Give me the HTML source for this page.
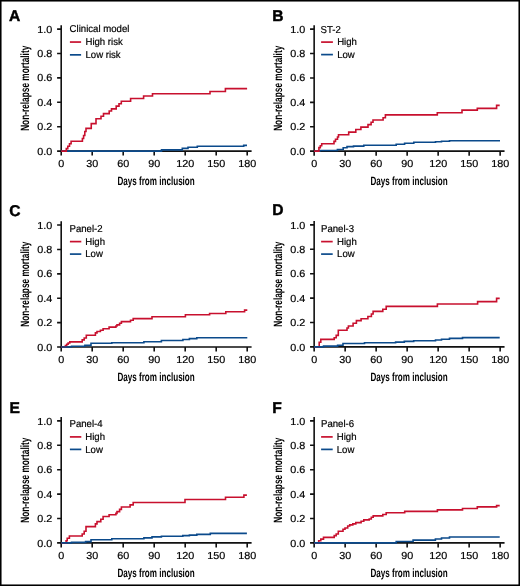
<!DOCTYPE html>
<html><head><meta charset="utf-8"><style>
html,body{margin:0;padding:0;background:#fff;}
body{width:520px;height:586px;overflow:hidden;}
svg{display:block;will-change:transform;}
text{font-family:"Liberation Sans",sans-serif;fill:#000;text-rendering:geometricPrecision;}
.lt{font-weight:bold;font-size:15.6px;fill:#000;stroke:#000;stroke-width:0.45px;}
.tk{font-size:10.2px;stroke:#000;stroke-width:0.2px;}
.lg{font-size:10.0px;stroke:#000;stroke-width:0.2px;}
.at{font-size:12px;fill:#000;font-weight:bold;}
.ax{fill:none;stroke:#111;stroke-width:1.6;}
.ln{fill:none;stroke-width:1.7;}
.cv{fill:none;stroke-width:1.6;stroke-linejoin:miter;stroke-linecap:butt;}
</style></head><body>
<svg width="520" height="586" viewBox="0 0 520 586">
<rect x="0" y="0" width="520" height="586" fill="#fff"/>
<g><text x="9" y="20.6" class="lt">A</text>
<path d="M61.2 25.2V151.1H251.6" class="ax"/>
<path d="M57.1 151.1H61.2M57.1 126.7H61.2M57.1 102.3H61.2M57.1 77.9H61.2M57.1 53.5H61.2M57.1 29.1H61.2M61.2 151.1V155.6M92.2 151.1V155.6M123.2 151.1V155.6M154.2 151.1V155.6M185.2 151.1V155.6M216.2 151.1V155.6M247.2 151.1V155.6" class="ax"/>
<text transform="translate(52.3 154.65) scale(1.06 1)" class="tk" text-anchor="end">0.0</text>
<text transform="translate(52.3 130.25) scale(1.06 1)" class="tk" text-anchor="end">0.2</text>
<text transform="translate(52.3 105.85) scale(1.06 1)" class="tk" text-anchor="end">0.4</text>
<text transform="translate(52.3 81.45) scale(1.06 1)" class="tk" text-anchor="end">0.6</text>
<text transform="translate(52.3 57.05) scale(1.06 1)" class="tk" text-anchor="end">0.8</text>
<text transform="translate(52.3 32.65) scale(1.06 1)" class="tk" text-anchor="end">1.0</text>
<text transform="translate(61.3 167.35) scale(1.06 1)" class="tk" text-anchor="middle">0</text>
<text transform="translate(92.3 167.35) scale(1.06 1)" class="tk" text-anchor="middle">30</text>
<text transform="translate(123.3 167.35) scale(1.06 1)" class="tk" text-anchor="middle">60</text>
<text transform="translate(154.3 167.35) scale(1.06 1)" class="tk" text-anchor="middle">90</text>
<text transform="translate(185.3 167.35) scale(1.06 1)" class="tk" text-anchor="middle">120</text>
<text transform="translate(216.3 167.35) scale(1.06 1)" class="tk" text-anchor="middle">150</text>
<text transform="translate(247.3 167.35) scale(1.06 1)" class="tk" text-anchor="middle">180</text>
<text transform="translate(156.1 184.7) scale(0.674 1)" class="at" text-anchor="middle">Days from inclusion</text>
<text transform="translate(29.1 88.3) rotate(-90) scale(0.69 1)" class="at" text-anchor="middle">Non-relapse mortality</text>
<text transform="translate(69.6 32.3) scale(0.96 1)" class="lg">Clinical model</text>
<path d="M69.9 42.05H81.1" stroke="#C8102E" class="ln"/>
<path d="M69.9 54.85H81.1" stroke="#0B4A8B" class="ln"/>
<text transform="translate(85.45 44.8) scale(0.96 1)" class="lg">High risk</text>
<text transform="translate(85.45 57.5) scale(0.96 1)" class="lg">Low risk</text>
<path d="M61.2 151.1H161.5V149.9H182.3V148.4H188V147.3H197.3V146.3H243.7V145.4H247" stroke="#0B4A8B" class="cv"/>
<path d="M61.2 151.1H66.3V148.6H67.8V146.3H69.5V143.8H71.1V141.3H82.4V138.5H83.6V135.5H84.8V131.5H86V128.4H91.25V123.6H96V118.75H101V116.2H103.5V113.6H109.2V111H111.5V108.9H116.2V106.1H119V103.8H121.3V101.2H130.6V98.5H143.6V96H152.5V93.8H210V91.5H225.4V88.6H247.1" stroke="#C8102E" class="cv"/></g>
<g><text x="272.2" y="20.8" class="lt">B</text>
<path d="M314.15 25.25V151.15H504.55" class="ax"/>
<path d="M310.05 151.15H314.15M310.05 126.75H314.15M310.05 102.35H314.15M310.05 77.95H314.15M310.05 53.55H314.15M310.05 29.15H314.15M314.15 151.15V155.65M345.15 151.15V155.65M376.15 151.15V155.65M407.15 151.15V155.65M438.15 151.15V155.65M469.15 151.15V155.65M500.15 151.15V155.65" class="ax"/>
<text transform="translate(305.3 154.65) scale(1.06 1)" class="tk" text-anchor="end">0.0</text>
<text transform="translate(305.3 130.25) scale(1.06 1)" class="tk" text-anchor="end">0.2</text>
<text transform="translate(305.3 105.85) scale(1.06 1)" class="tk" text-anchor="end">0.4</text>
<text transform="translate(305.3 81.45) scale(1.06 1)" class="tk" text-anchor="end">0.6</text>
<text transform="translate(305.3 57.05) scale(1.06 1)" class="tk" text-anchor="end">0.8</text>
<text transform="translate(305.3 32.65) scale(1.06 1)" class="tk" text-anchor="end">1.0</text>
<text transform="translate(314.25 167.35) scale(1.06 1)" class="tk" text-anchor="middle">0</text>
<text transform="translate(345.25 167.35) scale(1.06 1)" class="tk" text-anchor="middle">30</text>
<text transform="translate(376.25 167.35) scale(1.06 1)" class="tk" text-anchor="middle">60</text>
<text transform="translate(407.25 167.35) scale(1.06 1)" class="tk" text-anchor="middle">90</text>
<text transform="translate(438.25 167.35) scale(1.06 1)" class="tk" text-anchor="middle">120</text>
<text transform="translate(469.25 167.35) scale(1.06 1)" class="tk" text-anchor="middle">150</text>
<text transform="translate(500.25 167.35) scale(1.06 1)" class="tk" text-anchor="middle">180</text>
<text transform="translate(409.1 184.7) scale(0.674 1)" class="at" text-anchor="middle">Days from inclusion</text>
<text transform="translate(282.1 88.3) rotate(-90) scale(0.69 1)" class="at" text-anchor="middle">Non-relapse mortality</text>
<text transform="translate(320.6 32.5) scale(0.96 1)" class="lg">ST-2</text>
<path d="M321.1 42.1H332.9" stroke="#C8102E" class="ln"/>
<path d="M321.1 54.6H332.9" stroke="#0B4A8B" class="ln"/>
<text transform="translate(337.15 44.8) scale(0.96 1)" class="lg">High</text>
<text transform="translate(337.15 57.5) scale(0.96 1)" class="lg">Low</text>
<path d="M314.15 151.15H319.7V150.5H337.4V149.5H343.2V147.7H347V146.6H353.5V146.1H363.8V145.2H396.2V144.2H404.6V143.2H413.8V142.3H435.5V141.8H441.5V141.2H449.5V140.7H500" stroke="#0B4A8B" class="cv"/>
<path d="M314.15 151.15H318.9V147.6H320.3V145.7H321.7V143.8H334V141.4H335.5V139.3H337.5V137H338.5V134.8H348.7V132.1H355.8V129.5H360.9V127.1H368V124.6H371.1V122.3H373V120H383.1V117.7H385.4V114.9H437.3V112.7H462V110.1H477.3V108.4H496.6V105.4H499.7" stroke="#C8102E" class="cv"/></g>
<g><text x="9.2" y="215.5" class="lt">C</text>
<path d="M61.2 221.15V347.05H251.6" class="ax"/>
<path d="M57.1 347.05H61.2M57.1 322.65H61.2M57.1 298.25H61.2M57.1 273.85H61.2M57.1 249.45H61.2M57.1 225.05H61.2M61.2 347.05V351.55M92.2 347.05V351.55M123.2 347.05V351.55M154.2 347.05V351.55M185.2 347.05V351.55M216.2 347.05V351.55M247.2 347.05V351.55" class="ax"/>
<text transform="translate(52.3 350.55) scale(1.06 1)" class="tk" text-anchor="end">0.0</text>
<text transform="translate(52.3 326.15) scale(1.06 1)" class="tk" text-anchor="end">0.2</text>
<text transform="translate(52.3 301.75) scale(1.06 1)" class="tk" text-anchor="end">0.4</text>
<text transform="translate(52.3 277.35) scale(1.06 1)" class="tk" text-anchor="end">0.6</text>
<text transform="translate(52.3 252.95) scale(1.06 1)" class="tk" text-anchor="end">0.8</text>
<text transform="translate(52.3 228.55) scale(1.06 1)" class="tk" text-anchor="end">1.0</text>
<text transform="translate(61.3 363.25) scale(1.06 1)" class="tk" text-anchor="middle">0</text>
<text transform="translate(92.3 363.25) scale(1.06 1)" class="tk" text-anchor="middle">30</text>
<text transform="translate(123.3 363.25) scale(1.06 1)" class="tk" text-anchor="middle">60</text>
<text transform="translate(154.3 363.25) scale(1.06 1)" class="tk" text-anchor="middle">90</text>
<text transform="translate(185.3 363.25) scale(1.06 1)" class="tk" text-anchor="middle">120</text>
<text transform="translate(216.3 363.25) scale(1.06 1)" class="tk" text-anchor="middle">150</text>
<text transform="translate(247.3 363.25) scale(1.06 1)" class="tk" text-anchor="middle">180</text>
<text transform="translate(156.1 380.6) scale(0.674 1)" class="at" text-anchor="middle">Days from inclusion</text>
<text transform="translate(29.1 284.2) rotate(-90) scale(0.69 1)" class="at" text-anchor="middle">Non-relapse mortality</text>
<text transform="translate(69.5 231.7) scale(0.96 1)" class="lg">Panel-2</text>
<path d="M69.9 241.6H81.3" stroke="#C8102E" class="ln"/>
<path d="M69.9 254.1H81.3" stroke="#0B4A8B" class="ln"/>
<text transform="translate(85.25 244.7) scale(0.96 1)" class="lg">High</text>
<text transform="translate(85.25 257.4) scale(0.96 1)" class="lg">Low</text>
<path d="M61.2 347.05H65.4V345.6H66.7V344.3H68.1V343H69.8V341.9H82.2V339.9H84.2V338H86.3V335.2H95.4V332.9H97V331.5H100.4V330.2H103.1V328.8H109.1V327.1H115.9V326H117V324.9H119.6V323.2H121.4V321.6H130.5V320.2H133.2V318.6H152V316.8H185.4V314.8H209.6V313.5H225.8V311.7H244.6V310.1H247.3" stroke="#C8102E" class="cv"/>
<path d="M61.2 347.05H71.5V346.2H84.9V345.4H91V343.2H111.8V342.7H143.9V341.7H161.4V340.5H182.9V339.5H189.4V338.6H196.8V337.7H247.3" stroke="#0B4A8B" class="cv"/></g>
<g><text x="272.2" y="215.4" class="lt">D</text>
<path d="M314.15 221V346.9H504.55" class="ax"/>
<path d="M310.05 346.9H314.15M310.05 322.5H314.15M310.05 298.1H314.15M310.05 273.7H314.15M310.05 249.3H314.15M310.05 224.9H314.15M314.15 346.9V351.4M345.15 346.9V351.4M376.15 346.9V351.4M407.15 346.9V351.4M438.15 346.9V351.4M469.15 346.9V351.4M500.15 346.9V351.4" class="ax"/>
<text transform="translate(305.3 350.55) scale(1.06 1)" class="tk" text-anchor="end">0.0</text>
<text transform="translate(305.3 326.15) scale(1.06 1)" class="tk" text-anchor="end">0.2</text>
<text transform="translate(305.3 301.75) scale(1.06 1)" class="tk" text-anchor="end">0.4</text>
<text transform="translate(305.3 277.35) scale(1.06 1)" class="tk" text-anchor="end">0.6</text>
<text transform="translate(305.3 252.95) scale(1.06 1)" class="tk" text-anchor="end">0.8</text>
<text transform="translate(305.3 228.55) scale(1.06 1)" class="tk" text-anchor="end">1.0</text>
<text transform="translate(314.25 363.25) scale(1.06 1)" class="tk" text-anchor="middle">0</text>
<text transform="translate(345.25 363.25) scale(1.06 1)" class="tk" text-anchor="middle">30</text>
<text transform="translate(376.25 363.25) scale(1.06 1)" class="tk" text-anchor="middle">60</text>
<text transform="translate(407.25 363.25) scale(1.06 1)" class="tk" text-anchor="middle">90</text>
<text transform="translate(438.25 363.25) scale(1.06 1)" class="tk" text-anchor="middle">120</text>
<text transform="translate(469.25 363.25) scale(1.06 1)" class="tk" text-anchor="middle">150</text>
<text transform="translate(500.25 363.25) scale(1.06 1)" class="tk" text-anchor="middle">180</text>
<text transform="translate(409.1 380.6) scale(0.674 1)" class="at" text-anchor="middle">Days from inclusion</text>
<text transform="translate(282.1 284.2) rotate(-90) scale(0.69 1)" class="at" text-anchor="middle">Non-relapse mortality</text>
<text transform="translate(321 231.7) scale(0.96 1)" class="lg">Panel-3</text>
<path d="M321.1 241.6H332.7" stroke="#C8102E" class="ln"/>
<path d="M321.1 254.1H332.7" stroke="#0B4A8B" class="ln"/>
<text transform="translate(337.05 244.7) scale(0.96 1)" class="lg">High</text>
<text transform="translate(337.05 257.4) scale(0.96 1)" class="lg">Low</text>
<path d="M314.15 346.9H319.2V342.3H320.8V339.4H334.2V337.8H336.2V335.4H338.3V330.3H347V328H348.4V326H353.1V323.3H356.4V320.6H361.1V318.8H367.9V316.5H371.4V314H373.1V311.4H382.8V309.2H386.2V306.4H437.4V304H477.6V301.6H496.6V298.4H499.7" stroke="#C8102E" class="cv"/>
<path d="M314.15 346.9H323.5V346.1H337.6V345.2H343V343.5H364.5V342.7H395.6V342.1H404.3V341.4H413.7V340.7H435.5V340H441.5V339.2H449.5V338.4H462.5V337.6H499.7" stroke="#0B4A8B" class="cv"/></g>
<g><text x="9.4" y="412.5" class="lt">E</text>
<path d="M61.2 417V542.9H251.6" class="ax"/>
<path d="M57.1 542.9H61.2M57.1 518.5H61.2M57.1 494.1H61.2M57.1 469.7H61.2M57.1 445.3H61.2M57.1 420.9H61.2M61.2 542.9V547.4M92.2 542.9V547.4M123.2 542.9V547.4M154.2 542.9V547.4M185.2 542.9V547.4M216.2 542.9V547.4M247.2 542.9V547.4" class="ax"/>
<text transform="translate(52.3 546.55) scale(1.06 1)" class="tk" text-anchor="end">0.0</text>
<text transform="translate(52.3 522.15) scale(1.06 1)" class="tk" text-anchor="end">0.2</text>
<text transform="translate(52.3 497.75) scale(1.06 1)" class="tk" text-anchor="end">0.4</text>
<text transform="translate(52.3 473.35) scale(1.06 1)" class="tk" text-anchor="end">0.6</text>
<text transform="translate(52.3 448.95) scale(1.06 1)" class="tk" text-anchor="end">0.8</text>
<text transform="translate(52.3 424.55) scale(1.06 1)" class="tk" text-anchor="end">1.0</text>
<text transform="translate(61.3 559.25) scale(1.06 1)" class="tk" text-anchor="middle">0</text>
<text transform="translate(92.3 559.25) scale(1.06 1)" class="tk" text-anchor="middle">30</text>
<text transform="translate(123.3 559.25) scale(1.06 1)" class="tk" text-anchor="middle">60</text>
<text transform="translate(154.3 559.25) scale(1.06 1)" class="tk" text-anchor="middle">90</text>
<text transform="translate(185.3 559.25) scale(1.06 1)" class="tk" text-anchor="middle">120</text>
<text transform="translate(216.3 559.25) scale(1.06 1)" class="tk" text-anchor="middle">150</text>
<text transform="translate(247.3 559.25) scale(1.06 1)" class="tk" text-anchor="middle">180</text>
<text transform="translate(156.1 576.6) scale(0.674 1)" class="at" text-anchor="middle">Days from inclusion</text>
<text transform="translate(29.1 480.2) rotate(-90) scale(0.69 1)" class="at" text-anchor="middle">Non-relapse mortality</text>
<text transform="translate(69.5 427.1) scale(0.96 1)" class="lg">Panel-4</text>
<path d="M69.9 436.9H81.3" stroke="#C8102E" class="ln"/>
<path d="M69.9 449.4H81.3" stroke="#0B4A8B" class="ln"/>
<text transform="translate(85.25 440) scale(0.96 1)" class="lg">High</text>
<text transform="translate(85.25 452.9) scale(0.96 1)" class="lg">Low</text>
<path d="M61.2 542.9H66.1V540.8H67.2V538.3H69.4V536H82.2V534H84.2V531.3H86V526.6H95.4V523.9H97V521.6H100.8V519.2H103.1V516.5H109.1V514.7H115.9V513.4H117V511.6H119.6V509.4H121.4V507H130.1V504.9H133.2V502.5H185V499.5H225.5V497.2H243.9V495.1H246.9" stroke="#C8102E" class="cv"/>
<path d="M61.2 542.9H71.5V542.4H85.6V541.6H91V539.8H111.8V538.8H143.9V537.9H152V536.9H161.4V536.3H182.8V535.6H189.4V535.1H196.8V534.4H210.3V533.4H246.9" stroke="#0B4A8B" class="cv"/></g>
<g><text x="272.2" y="412.5" class="lt">F</text>
<path d="M314.15 417V542.9H504.55" class="ax"/>
<path d="M310.05 542.9H314.15M310.05 518.5H314.15M310.05 494.1H314.15M310.05 469.7H314.15M310.05 445.3H314.15M310.05 420.9H314.15M314.15 542.9V547.4M345.15 542.9V547.4M376.15 542.9V547.4M407.15 542.9V547.4M438.15 542.9V547.4M469.15 542.9V547.4M500.15 542.9V547.4" class="ax"/>
<text transform="translate(305.3 546.55) scale(1.06 1)" class="tk" text-anchor="end">0.0</text>
<text transform="translate(305.3 522.15) scale(1.06 1)" class="tk" text-anchor="end">0.2</text>
<text transform="translate(305.3 497.75) scale(1.06 1)" class="tk" text-anchor="end">0.4</text>
<text transform="translate(305.3 473.35) scale(1.06 1)" class="tk" text-anchor="end">0.6</text>
<text transform="translate(305.3 448.95) scale(1.06 1)" class="tk" text-anchor="end">0.8</text>
<text transform="translate(305.3 424.55) scale(1.06 1)" class="tk" text-anchor="end">1.0</text>
<text transform="translate(314.25 559.25) scale(1.06 1)" class="tk" text-anchor="middle">0</text>
<text transform="translate(345.25 559.25) scale(1.06 1)" class="tk" text-anchor="middle">30</text>
<text transform="translate(376.25 559.25) scale(1.06 1)" class="tk" text-anchor="middle">60</text>
<text transform="translate(407.25 559.25) scale(1.06 1)" class="tk" text-anchor="middle">90</text>
<text transform="translate(438.25 559.25) scale(1.06 1)" class="tk" text-anchor="middle">120</text>
<text transform="translate(469.25 559.25) scale(1.06 1)" class="tk" text-anchor="middle">150</text>
<text transform="translate(500.25 559.25) scale(1.06 1)" class="tk" text-anchor="middle">180</text>
<text transform="translate(409.1 576.6) scale(0.674 1)" class="at" text-anchor="middle">Days from inclusion</text>
<text transform="translate(282.1 480.2) rotate(-90) scale(0.69 1)" class="at" text-anchor="middle">Non-relapse mortality</text>
<text transform="translate(321 427.1) scale(0.96 1)" class="lg">Panel-6</text>
<path d="M321.1 436.9H332.7" stroke="#C8102E" class="ln"/>
<path d="M321.1 449.4H332.7" stroke="#0B4A8B" class="ln"/>
<text transform="translate(336.75 440) scale(0.96 1)" class="lg">High</text>
<text transform="translate(336.75 452.9) scale(0.96 1)" class="lg">Low</text>
<path d="M314.15 542.9H318.7V540.8H320.8V539.1H323.5V537.4H334.2V535.6H336.2V534H338.3V531.3H343V529.3H345V528H347.7V526H349.7V524.9H352.8V523.9H355.8V522.6H361.1V521.2H363.8V519.9H369.2V519H371.3V517.2H373.2V515.9H382.8V514.5H386.2V512.8H404.7V511.4H437.4V509.9H462.5V508.5H477.3V506.9H496.6V505.6H499.7" stroke="#C8102E" class="cv"/>
<path d="M314.15 542.9H396.2V541.5H413.1V540.1H435.4V539H441.5V538H449.5V537H499.7" stroke="#0B4A8B" class="cv"/></g>
<rect x="0" y="0" width="520" height="586" fill="none" stroke="#000" stroke-width="3.1"/>
</svg>
</body></html>
